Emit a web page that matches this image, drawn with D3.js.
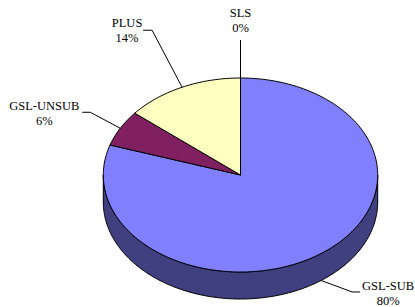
<!DOCTYPE html>
<html><head><meta charset="utf-8">
<script src="https://cdn.jsdelivr.net/npm/d3@7"></script>
<style>body{margin:0;background:#fff}svg{display:block}</style>
</head><body><svg id="c" width="415" height="307"></svg>
<script>
const categories = ["GSL-SUB", "GSL-UNSUB", "PLUS", "SLS"];
const values = [80, 6, 14, 0];
const colors = ["#8080FF", "#802060", "#FFFFC0", "#A0E0E0"];

// layout (not data)
const cx = 240.5, cy = 175, rx = 137.2, ry = 97, depth = 27;
// elbow offset from anchor, horizontal run, text offset from anchor
const labelLayout = [
  {ex: 31, ey: 11.5, h: 8, tx: 67, ty: 9.5},
  {ex: -30, ey: -16, h: -8, tx: -76, ty: -18},
  {ex: -30, ey: -57, h: -9, tx: -55, ty: -60},
  {ex: 0, ey: -38, h: 0, tx: 0, ty: -61}
];

const svg = d3.select("#c");
const pie = d3.pie().sort(null).value(d => d);
const arcs = pie(values);
const total = d3.sum(values);

const pt = (a, dz = 0) => [cx + rx * Math.sin(a), cy - ry * Math.cos(a) + dz];
const line = d3.line();

function sample(a0, a1, dz) {
  const n = Math.max(2, Math.ceil(Math.abs(a1 - a0) / 0.02));
  return d3.range(n + 1).map(i => pt(a0 + (a1 - a0) * i / n, dz));
}

// sides (front half only)
arcs.forEach((d, i) => {
  const a0 = Math.max(d.startAngle, Math.PI / 2);
  const a1 = Math.min(d.endAngle, 3 * Math.PI / 2);
  if (a1 <= a0) return;
  const pts = sample(a0, a1, 0).concat(sample(a1, a0, depth));
  const c = d3.rgb(colors[i]);
  svg.append("path")
    .attr("d", line(pts) + "Z")
    .attr("fill", d3.rgb(c.r * 0.5, c.g * 0.5, c.b * 0.5))
    .attr("stroke", "#000").attr("stroke-width", 1).attr("stroke-linejoin", "round");
});

// top faces
arcs.forEach((d, i) => {
  if (d.endAngle - d.startAngle <= 0) return;
  const pts = [[cx, cy]].concat(sample(d.startAngle, d.endAngle, 0));
  svg.append("path")
    .attr("d", line(pts) + "Z")
    .attr("fill", colors[i])
    .attr("stroke", "#000").attr("stroke-width", 1).attr("stroke-linejoin", "round");
});

// labels
arcs.forEach((d, i) => {
  const mid = (d.startAngle + d.endAngle) / 2;
  const front = Math.cos(mid) < 0;
  const a = pt(mid, front ? depth : 0);
  const L = labelLayout[i];
  const e = [a[0] + L.ex, a[1] + L.ey];
  const end = [e[0] + L.h, e[1]];
  svg.append("path")
    .attr("d", line([a, e, end]))
    .attr("fill", "none").attr("stroke", "#000").attr("stroke-width", 1);
  const t = svg.append("text")
    .attr("x", a[0] + L.tx).attr("y", a[1] + L.ty)
    .attr("text-anchor", "middle")
    .attr("font-family", "'Liberation Serif', 'Times New Roman', serif")
    .attr("font-size", "12.5px").attr("fill", "#000");
  t.append("tspan").attr("x", a[0] + L.tx).text(categories[i]);
  t.append("tspan").attr("x", a[0] + L.tx).attr("dy", 15)
    .text(Math.round(values[i] / total * 100) + "%");
});
</script>
</body></html>
